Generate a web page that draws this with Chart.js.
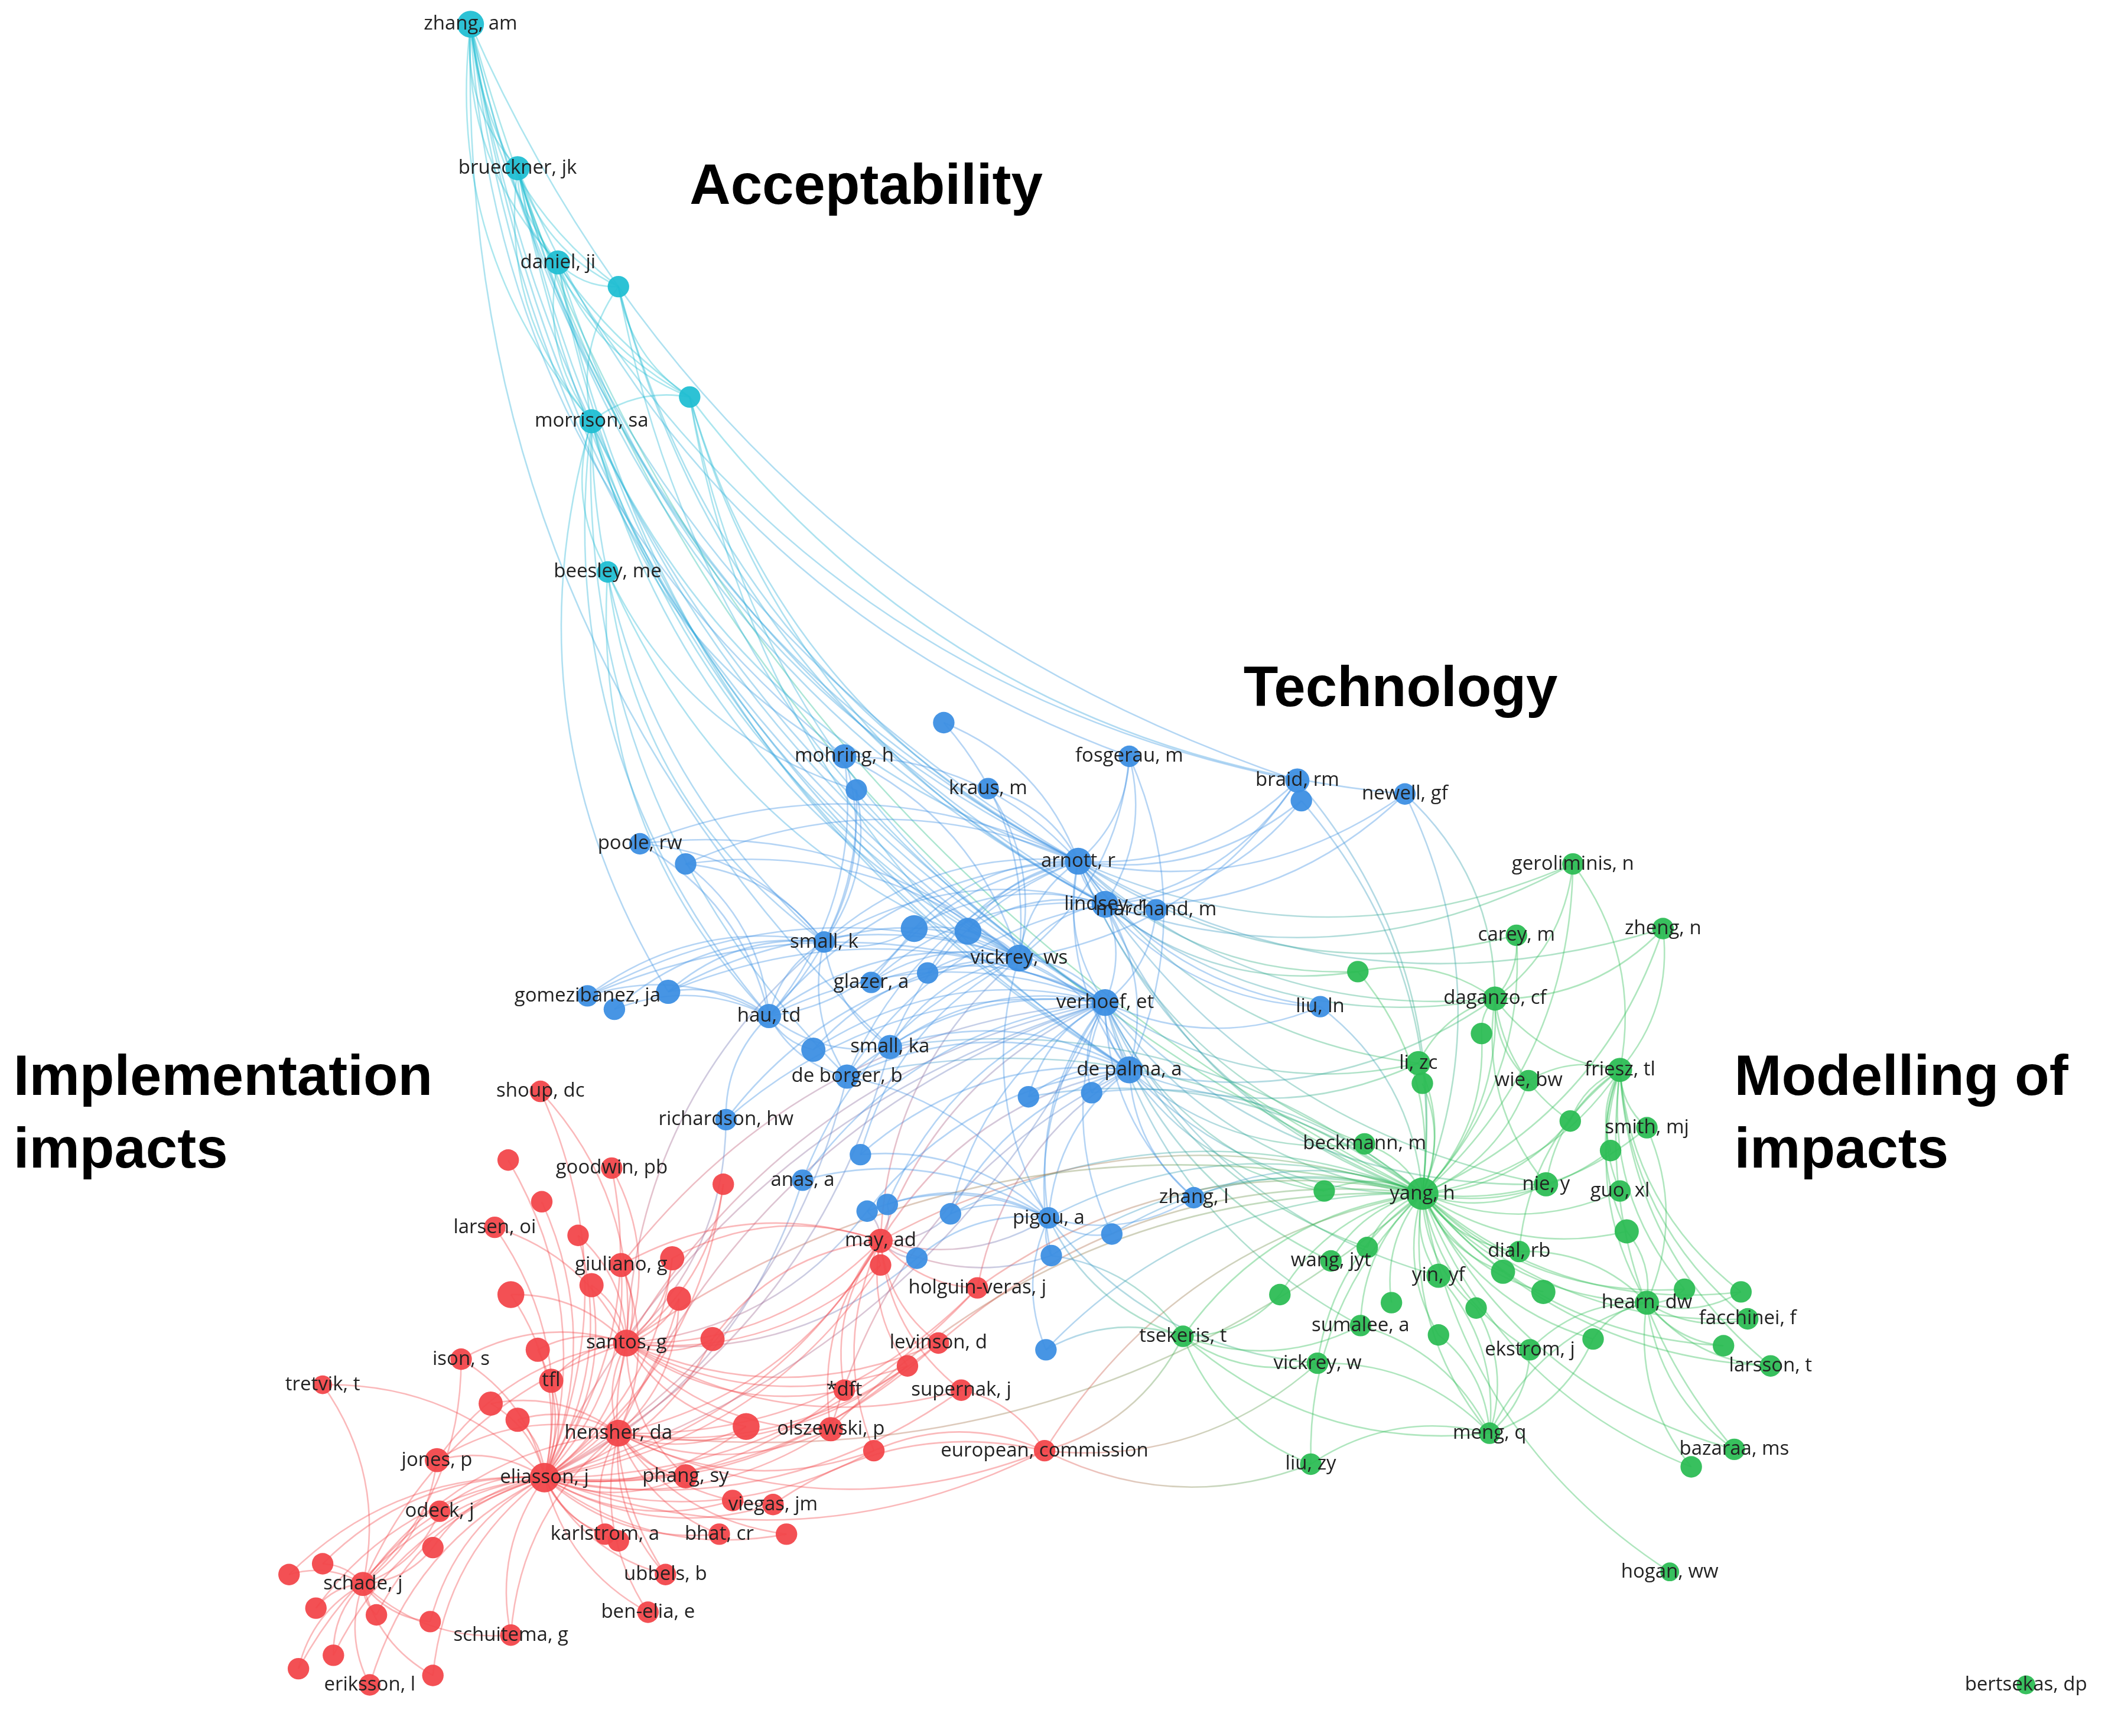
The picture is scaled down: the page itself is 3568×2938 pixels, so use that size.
<!DOCTYPE html>
<html><head><meta charset="utf-8">
<script src="https://cdn.jsdelivr.net/npm/chart.js@4.4.1/dist/chart.umd.min.js"></script>
<style>html,body{margin:0;padding:0;background:#fff}#wrap{width:3568px;height:2938px}</style>
</head><body><div id="wrap"><canvas id="c"></canvas></div>
<script>
// [name, x, y, size] ; names starting with "_" have no label
const cyanNodes = [["zhang, am",350,18,10],["brueckner, jk",385,125,9],["daniel, ji",415,195,9],["_c1",460,213,8],["_c2",513,295,8],["morrison, sa",440,313,9],["beesley, me",452,425,8]];
const blueNodes = [["_b1",702,537,8],["mohring, h",628,562,9],["_b2",637,587,8],["kraus, m",735,586,8],["fosgerau, m",840,562,8],["braid, rm",965,580,9],["_b3",968,595,8],["newell, gf",1045,590,8],["poole, rw",476,627,8],["_b4",510,642,8],["arnott, r",802,640,10],["lindsey, r",822,672,10],["marchand, m",860,676,8],["small, k",613,700,8],["_b5",680,690,10],["_b20",720,692,10],["vickrey, ws",758,712,10],["glazer, a",648,730,8],["_b21",690,723,8],["hau, td",572,755,9],["_b6",497,737,9],["gomezibanez, ja",437,740,8],["_b7",457,750,8],["verhoef, et",822,745,10],["liu, ln",982,748,8],["small, ka",662,778,9],["_b8",605,780,9],["de borger, b",630,800,9],["de palma, a",840,795,10],["richardson, hw",540,832,8],["_b9",765,815,8],["_b10",812,812,8],["anas, a",597,877,8],["_b11",640,858,8],["_b12",645,900,8],["_b13",660,895,8],["_b14",707,902,8],["pigou, a",780,905,8],["zhang, l",888,890,8],["_b15",827,917,8],["_b16",782,933,8],["_b17",682,935,8],["_b18",778,1003,8]];
const redNodes = [["shoup, dc",402,811,8],["_r1",378,862,8],["goodwin, pb",455,868,8],["_r2",403,893,8],["larsen, oi",368,912,8],["_r3",430,918,8],["_r4",538,880,8],["giuliano, g",462,940,9],["_r22",500,935,9],["_r5",380,962,10],["_r6",440,955,9],["_r7",505,965,9],["may, ad",655,922,9],["_r25",655,940,8],["holguin-veras, j",727,957,8],["santos, g",466,998,10],["_r8",530,995,9],["_r9",400,1003,9],["ison, s",343,1010,8],["tfl",410,1026,9],["levinson, d",698,998,8],["_r24",675,1015,8],["*dft",628,1033,8],["supernak, j",715,1033,8],["tretvik, t",240,1029,7],["_r10",385,1055,9],["_r11",365,1043,9],["hensher, da",460,1065,10],["_r23",555,1060,10],["olszewski, p",618,1062,9],["_r12",650,1078,8],["jones, p",325,1085,9],["eliasson, j",405,1098,11],["phang, sy",510,1097,9],["european, commission",777,1078,8],["odeck, j",327,1123,8],["_r27",545,1115,8],["viegas, jm",575,1118,8],["karlstrom, a",450,1140,8],["_r28",585,1140,8],["bhat, cr",535,1140,8],["_r13",460,1145,8],["_r14",322,1150,8],["_r26",240,1162,8],["schade, j",270,1177,9],["_r15",215,1170,8],["ubbels, b",495,1170,8],["_r16",235,1195,8],["_r17",280,1200,8],["_r18",320,1205,8],["schuitema, g",380,1215,8],["ben-elia, e",482,1198,8],["_r19",248,1230,8],["_r20",222,1240,8],["eriksson, l",275,1252,8],["_r21",322,1245,8]];
const greenNodes = [["geroliminis, n",1170,642,8],["zheng, n",1237,690,8],["carey, m",1128,695,8],["_g1",1010,722,8],["daganzo, cf",1112,742,9],["_g2",1102,768,8],["li, zc",1055,790,9],["_g3",1058,805,8],["wie, bw",1137,803,8],["friesz, tl",1205,795,9],["_g4",1168,833,8],["smith, mj",1225,838,8],["_g5",1198,855,8],["beckmann, m",1015,850,8],["yang, h",1058,887,12],["nie, y",1150,880,9],["guo, xl",1205,885,8],["_g6",985,885,8],["_g7",1210,915,9],["_g18",1017,927,8],["wang, jyt",990,937,8],["yin, yf",1070,948,9],["_g19",1118,945,9],["dial, rb",1130,930,8],["_g8",1148,960,9],["hearn, dw",1225,968,9],["_g9",1253,958,8],["_g10",1295,960,8],["facchinei, f",1300,980,8],["_g12",952,962,8],["_g11",1035,968,8],["_g13",1098,972,8],["sumalee, a",1012,985,8],["tsekeris, t",880,993,8],["_g14",1070,992,8],["ekstrom, j",1138,1003,8],["_g15",1185,995,8],["vickrey, w",980,1013,8],["_g16",1282,1000,8],["larsson, t",1317,1015,8],["meng, q",1108,1065,8],["bazaraa, ms",1290,1077,8],["_g17",1258,1090,8],["liu, zy",975,1088,8],["hogan, ww",1242,1168,7],["bertsekas, dp",1507,1252,7]];
// hubs: [source, [targets]]
const hubs = [
 ["zhang, am",["brueckner, jk","daniel, ji","_c1","_c2","morrison, sa","arnott, r","lindsey, r","verhoef, et","mohring, h","de palma, a","braid, rm","yang, h","small, ka","vickrey, ws"]],
 ["brueckner, jk",["daniel, ji","_c1","_c2","morrison, sa","verhoef, et","arnott, r","yang, h","de palma, a","lindsey, r","fosgerau, m"]],
 ["daniel, ji",["_c1","morrison, sa","_c2","arnott, r","braid, rm","vickrey, ws","de palma, a"]],
 ["_c1",["_c2","morrison, sa","verhoef, et","lindsey, r","arnott, r"]],
 ["_c2",["morrison, sa","verhoef, et","arnott, r","de palma, a","newell, gf","lindsey, r"]],
 ["morrison, sa",["beesley, me","small, k","arnott, r","mohring, h","_b6","hau, td","verhoef, et","vickrey, ws","de borger, b"]],
 ["beesley, me",["small, k","_b2","hau, td","vickrey, ws"]],
 ["arnott, r",["lindsey, r","vickrey, ws","verhoef, et","de palma, a","small, k","_b5","_b20","braid, rm","_b3","newell, gf","fosgerau, m","mohring, h","kraus, m","_b1","yang, h","daganzo, cf","li, zc","_g1","geroliminis, n","liu, ln","small, ka","marchand, m","glazer, a","hau, td","_b21","poole, rw","_b4","de borger, b","nie, y","zheng, n","carey, m","beckmann, m"]],
 ["verhoef, et",["lindsey, r","vickrey, ws","de palma, a","small, ka","_b8","de borger, b","glazer, a","yang, h","li, zc","_g6","pigou, a","zhang, l","_b9","_b10","_b15","_b16","may, ad","santos, g","eliasson, j","giuliano, g","hensher, da","hau, td","_b14","_b13","anas, a","nie, y","wang, jyt","sumalee, a","yin, yf","_g18","richardson, hw","_b6","gomezibanez, ja","marchand, m","liu, ln"]],
 ["de palma, a",["lindsey, r","vickrey, ws","yang, h","small, ka","de borger, b","_b9","_b10","pigou, a","li, zc","daganzo, cf","beckmann, m","_g6","zhang, l","fosgerau, m","_b14","_b12","_b11","olszewski, p","holguin-veras, j","may, ad"]],
 ["lindsey, r",["vickrey, ws","braid, rm","_b3","newell, gf","fosgerau, m","_b5","_b20","small, k","yang, h","daganzo, cf","liu, ln","geroliminis, n","_g1","marchand, m","de borger, b","glazer, a"]],
 ["vickrey, ws",["_b5","_b20","small, k","glazer, a","_b21","hau, td","_b6","small, ka","_b8","mohring, h","kraus, m","_b1","fosgerau, m","anas, a","_b11","pigou, a","may, ad","richardson, hw","gomezibanez, ja","braid, rm","poole, rw","_b4"]],
 ["small, k",["_b5","mohring, h","_b2","hau, td","_b6","gomezibanez, ja","_b7","poole, rw","_b4","small, ka","de borger, b","santos, g"]],
 ["yang, h",["li, zc","_g3","wie, bw","friesz, tl","smith, mj","_g4","_g5","nie, y","guo, xl","_g7","dial, rb","_g19","yin, yf","_g8","hearn, dw","_g9","_g10","facchinei, f","_g11","_g12","_g13","sumalee, a","tsekeris, t","_g14","ekstrom, j","_g15","vickrey, w","_g16","larsson, t","meng, q","bazaraa, ms","_g17","liu, zy","_g6","_g18","wang, jyt","beckmann, m","daganzo, cf","_g2","carey, m","_g1","geroliminis, n","zheng, n","zhang, l","pigou, a","_b15","_b16","_b18","_b10","_b9","liu, ln","_b3","braid, rm","newell, gf","de borger, b","small, ka","_b14","may, ad","levinson, d","european, commission","olszewski, p","holguin-veras, j","santos, g","hogan, ww"]],
 ["daganzo, cf",["geroliminis, n","zheng, n","carey, m","_g1","_g2","li, zc","friesz, tl","wie, bw","newell, gf","nie, y","_g4"]],
 ["friesz, tl",["smith, mj","wie, bw","_g4","_g5","guo, xl","_g7","hearn, dw","facchinei, f","larsson, t","_g10","_g9","dial, rb","bazaraa, ms","nie, y","zheng, n","geroliminis, n"]],
 ["hearn, dw",["facchinei, f","larsson, t","_g16","_g10","_g9","bazaraa, ms","_g17","meng, q","ekstrom, j","_g15","dial, rb","smith, mj","_g7"]],
 ["meng, q",["liu, zy","ekstrom, j","_g14","_g13","vickrey, w","sumalee, a","_g15","yin, yf"]],
 ["eliasson, j",["santos, g","hensher, da","jones, p","odeck, j","karlstrom, a","phang, sy","viegas, jm","_r27","_r28","bhat, cr","_r13","_r14","_r26","schade, j","_r15","ubbels, b","_r16","_r17","_r18","schuitema, g","ben-elia, e","_r19","_r20","eriksson, l","_r21","_r10","_r11","tfl","ison, s","tretvik, t","_r9","_r5","_r6","giuliano, g","_r22","_r7","_r8","may, ad","olszewski, p","_r23","_r12","levinson, d","*dft","supernak, j","european, commission","larsen, oi","goodwin, pb","_r1","_r2","_r3","shoup, dc","_r4","holguin-veras, j","_r25","_r24","de borger, b","small, ka","verhoef, et","anas, a"]],
 ["santos, g",["giuliano, g","_r22","_r7","_r8","_r6","_r5","tfl","_r9","hensher, da","may, ad","_r25","levinson, d","*dft","olszewski, p","_r23","goodwin, pb","larsen, oi","_r3","_r4","shoup, dc","ison, s","jones, p","phang, sy","_r24","supernak, j","richardson, hw","_b12","_b17","schade, j","ubbels, b"]],
 ["hensher, da",["_r23","olszewski, p","phang, sy","viegas, jm","karlstrom, a","bhat, cr","_r28","_r12","_r24","holguin-veras, j","levinson, d","may, ad","giuliano, g","_r7","schade, j","schuitema, g","jones, p","_r10","_r11","ubbels, b","ben-elia, e","european, commission","yang, h"]],
 ["schade, j",["_r26","_r15","_r16","_r17","_r18","schuitema, g","_r19","_r20","eriksson, l","_r21","_r14","odeck, j","jones, p","tretvik, t","ison, s"]],
 ["may, ad",["_r25","holguin-veras, j","levinson, d","_r24","*dft","supernak, j","olszewski, p","_r12","pigou, a","_b16","_b14","_b17","_b13","_b12","giuliano, g","_r22","_r8"]],
 ["pigou, a",["_b16","_b15","_b14","_b17","_b18","anas, a","_b12","_b13","_b11","de borger, b","zhang, l","tsekeris, t","vickrey, w"]],
 ["hau, td",["_b6","gomezibanez, ja","_b7","poole, rw","_b4","small, ka","_b8","de borger, b","richardson, hw","mohring, h","_b2","_b5"]],
 ["european, commission",["liu, zy","vickrey, w","tsekeris, t","_r12","supernak, j","viegas, jm"]],
 ["tsekeris, t",["vickrey, w","_g12","sumalee, a","meng, q","liu, zy","_b18","_b16"]]
];
const titles = [["Acceptability",513,140],["Technology",925,513],["Implementation",10,802],["impacts",10,856],["Modelling of",1290,802],["impacts",1290,856]];
const clusterColors = {cyan:"#22bfd3",blue:"#3d8fe3",red:"#f2474b",green:"#2dbd55"};

const all = [];
[["cyan",cyanNodes],["blue",blueNodes],["red",redNodes],["green",greenNodes]].forEach(([c,arr])=>arr.forEach(n=>all.push({name:n[0],x:n[1],y:n[2],r:n[3],c})));
const byName = {}; all.forEach(n=>byName[n.name]=n);

function rgba(hex,a){const v=parseInt(hex.slice(1),16);return `rgba(${v>>16},${(v>>8)&255},${v&255},${a})`;}

const edgePlugin = {id:'edges',beforeDatasetsDraw(chart){
  const ctx=chart.ctx, xs=chart.scales.x, ys=chart.scales.y;
  ctx.save(); ctx.lineWidth=2.6;
  hubs.forEach(([s,ts])=>{const a=byName[s]; if(!a) return;
    ts.forEach(t=>{const b=byName[t]; if(!b) return;
      const x1=xs.getPixelForValue(a.x),y1=ys.getPixelForValue(a.y),x2=xs.getPixelForValue(b.x),y2=ys.getPixelForValue(b.y);
      const mx=(x1+x2)/2,my=(y1+y2)/2,dx=x2-x1,dy=y2-y1;
      const cx=mx-dy*0.22,cy=my+dx*0.22;
      const g=ctx.createLinearGradient(x1,y1,x2,y2);
      g.addColorStop(0,rgba(clusterColors[a.c],0.38));g.addColorStop(1,rgba(clusterColors[b.c],0.38));
      ctx.strokeStyle=g; ctx.beginPath(); ctx.moveTo(x1,y1); ctx.quadraticCurveTo(cx,cy,x2,y2); ctx.stroke();
    });});
  ctx.restore();
},
afterDatasetsDraw(chart){
  const ctx=chart.ctx, xs=chart.scales.x, ys=chart.scales.y, k=chart.width/1568;
  ctx.save(); ctx.textAlign='center'; ctx.textBaseline='middle';
  ctx.font=`${Math.round(14.5*k)}px "Open Sans"`; ctx.fillStyle='#222';
  all.forEach(n=>{ if(n.name[0]==='_') return; ctx.fillText(n.name,xs.getPixelForValue(n.x),ys.getPixelForValue(n.y)); });
  ctx.textAlign='left'; ctx.fillStyle='#000'; ctx.font=`bold ${Math.round(42*k)}px "Liberation Sans"`;
  titles.forEach(t=>ctx.fillText(t[0],xs.getPixelForValue(t[1]),ys.getPixelForValue(t[2])));
  ctx.restore();
}};

const K = 3568/1568;
const datasets = Object.keys(clusterColors).map(c=>{const ns=all.filter(n=>n.c===c);return {
  data:ns.map(n=>({x:n.x,y:n.y})), pointRadius:ns.map(n=>n.r*K), pointHoverRadius:ns.map(n=>n.r*K),
  backgroundColor:rgba(clusterColors[c],0.95), borderWidth:0, showLine:false, clip:false};});

new Chart(document.getElementById('c'),{type:'scatter',data:{datasets},plugins:[edgePlugin],
 options:{responsive:true,maintainAspectRatio:false,animation:false,layout:{padding:0,autoPadding:false},
  plugins:{legend:{display:false},tooltip:{enabled:false}},
  scales:{x:{type:'linear',min:0,max:1568,display:false},y:{type:'linear',min:0,max:1290,reverse:true,display:false}}}});
</script></body></html>
